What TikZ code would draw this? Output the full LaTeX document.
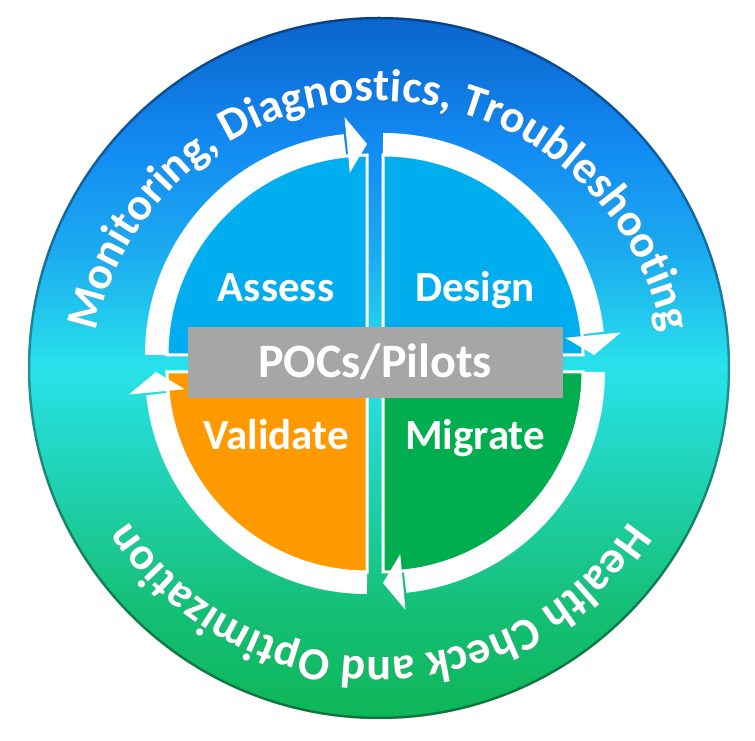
\documentclass[tikz,border=0pt]{standalone}
\usepackage{fontspec}
\setmainfont{Carlito}
\usetikzlibrary{positioning,calc,decorations.text}

\definecolor{ringnavy}{RGB}{10,100,204}
\definecolor{ringblue}{RGB}{18,138,242}
\definecolor{ringsky}{RGB}{28,172,240}
\definecolor{ringcyan}{RGB}{40,226,234}
\definecolor{ringteal}{RGB}{30,206,165}
\definecolor{ringgreen}{RGB}{14,182,88}
\definecolor{assessblue}{RGB}{0,174,239}
\definecolor{migrategreen}{RGB}{0,174,80}
\definecolor{validateorange}{RGB}{255,153,0}
\definecolor{pocgray}{RGB}{166,166,166}

% bottom (25bp) to top (75bp) of the filled circle
\pgfdeclareverticalshading{ringshade}{100bp}{%
  color(0bp)=(ringgreen); color(25bp)=(ringgreen); color(33bp)=(ringgreen!60!ringteal);
  color(40bp)=(ringteal); color(50bp)=(ringcyan); color(58bp)=(ringsky);
  color(66bp)=(ringblue); color(75bp)=(ringnavy); color(100bp)=(ringnavy)}

\newcommand{\ringfont}{\fontsize{46}{54}\selectfont\bfseries}
\newcommand{\stepfont}{\fontsize{43}{50}\selectfont\bfseries}

\tikzset{
  quadrant/.style={draw=white, line width=3pt, line join=miter},
  cyclearc/.style={draw=white, line width=22pt},
  steplabel/.style={text=white, anchor=base, inner sep=0pt, font=\stepfont},
  pocbox/.style={fill=pocgray, text=white, inner sep=0pt, minimum width=375pt,
    minimum height=71pt, text height=31pt, text depth=0pt,
    font=\fontsize{48}{56}\selectfont\bfseries},
  ringlabel/.style={decorate, decoration={text along path, text align=center,
    text color=white, text={|\ringfont|#1}}},
}

\begin{document}
\begin{tikzpicture}[x=1pt,y=1pt]
\path[use as bounding box,fill=white] (0,0) rectangle (755,741);

\coordinate (C) at (379,373);
% centres of the two text arcs
\coordinate (T) at (379,351);
\coordinate (B) at (379,383);
% corners of the four quarters
\coordinate (A) at (367,386);
\coordinate (D) at (383,386);
\coordinate (M) at (383,369);
\coordinate (V) at (367,369);

% outer disc
\path[shading=ringshade] (C) circle[radius=351];
\draw[black, opacity=0.35, line width=2.5pt] (C) circle[radius=350];

% ring texts, shadow first
\begin{scope}[shift={(2,-2)}]
\path[ringlabel={Monitoring, Diagnostics, Troubleshooting}, decoration={text color=black!55}]
  ($(T)+(178:289)$) arc[start angle=178, end angle=2, radius=289];
\path[ringlabel={Health Check and Optimization}, decoration={text color=black!55}]
  ($(B)+(-5:299)$) arc[start angle=-5, end angle=-175, radius=299];
\end{scope}
\path[ringlabel={Monitoring, Diagnostics, Troubleshooting}]
  ($(T)+(178:289)$) arc[start angle=178, end angle=2, radius=289];
\path[ringlabel={Health Check and Optimization}]
  ($(B)+(-5:299)$) arc[start angle=-5, end angle=-175, radius=299];

% quarters
\filldraw[quadrant, fill=assessblue] (A) -- ++(180:200) arc[start angle=180, end angle=90, radius=200] -- cycle;
\filldraw[quadrant, fill=assessblue] (D) -- ++(90:200) arc[start angle=90, end angle=0, radius=200] -- cycle;
\filldraw[quadrant, fill=migrategreen] (M) -- ++(0:200) arc[start angle=0, end angle=-90, radius=200] -- cycle;
\filldraw[quadrant, fill=validateorange] (V) -- ++(-90:200) arc[start angle=-90, end angle=-180, radius=200] -- cycle;

% clockwise arrows round the quarters
\foreach \q/\s in {A/180, D/90, M/0, V/-90}{
  \draw[cyclearc] ($(\q)+(\s:211)$) arc[start angle=\s, end angle=\s-84, radius=211];
  \fill[white] ($(\q)+(\s-84.6:183)$) -- ($(\q)+(\s-90:211)$) -- ($(\q)+(\s-84.6:239)$) -- cycle;
}

\node[steplabel] (assess) at (276,439) {Assess};
\node[steplabel] (design) at (475,439) {Design};
\node[steplabel] (validate) at (276,291) {Validate};
\node[steplabel] (migrate) at (475,291) {Migrate};

\node[pocbox] (pocs) at (375,378.5) {POCs/Pilots};
\end{tikzpicture}
\end{document}
